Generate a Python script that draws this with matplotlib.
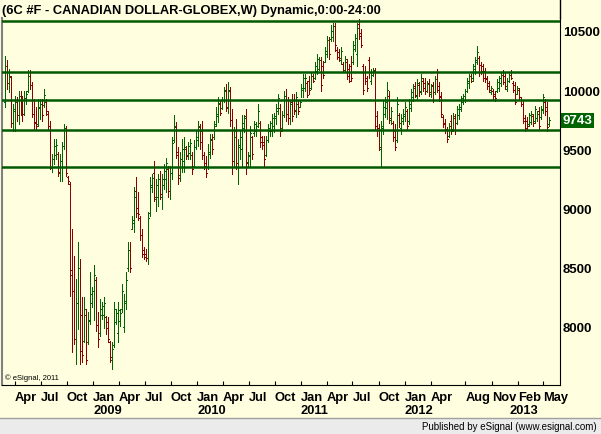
import numpy as np
import pandas as pd
import matplotlib
matplotlib.use('Agg')
import matplotlib.pyplot as plt
import matplotlib.dates as mdates
import matplotlib.transforms as mtransforms
from matplotlib.lines import Line2D
from matplotlib.patches import Rectangle

plt.rcParams['font.family'] = ['Liberation Sans', 'DejaVu Sans']

# weekly bars, 6C continuous
opens = [9900, 10200, 10060, 10110, 9720, 9820, 9900, 9790, 9950, 9830,
         9800, 9920, 9990, 10120, 10040, 9800, 9730, 9710, 9850, 9880,
         9870, 9900, 9800, 9700, 9340, 9420, 9450, 9460, 9300, 9400,
         9530, 9680, 9270, 9210, 8480, 8300, 7900, 8200, 8500, 8100,
         7880, 8100, 7870, 8050, 8200, 8300, 8400, 8020, 7950, 8100,
         8100, 8080, 8040, 7870, 7720, 7850, 8040, 7950, 8050, 8150,
         8000, 8200, 8500, 8650, 8830, 8880, 9150, 9000, 8920, 8780,
         8650, 8620, 8580, 8960, 9180, 9300, 9080, 9100, 9250, 9100,
         9200, 9250, 9330, 9150, 9300, 9580, 9690, 9450, 9280, 9350,
         9400, 9500, 9450, 9470, 9450, 9360, 9520, 9580, 9690, 9650,
         9450, 9380, 9350, 9460, 9590, 9600, 9710, 9780, 9880, 9850,
         9920, 10000, 9850, 9990, 9750, 9400, 9650, 9350, 9520, 9500,
         9680, 9780, 9390, 9440, 9600, 9640, 9650, 9700, 9720, 9600,
         9560, 9450, 9580, 9650, 9650, 9700, 9760, 9820, 9850, 9680,
         9790, 9950, 9800, 9760, 9900, 9920, 9820, 9880, 9860, 9950,
         10000, 10020, 10060, 10080, 10020, 10120, 10100, 10160, 10180, 10250,
         10200, 10240, 10300, 10420, 10430, 10450, 10540, 10340, 10320, 10250,
         10220, 10170, 10240, 10180, 10200, 10240, 10350, 10300, 10560, 10480,
         10200, 10150, 10100, 10250, 10080, 10130, 10160, 9780, 9680, 9500,
         9680, 9800, 9850, 9950, 9750, 9720, 9650, 9580, 9790, 9680,
         9740, 9780, 9820, 9740, 9850, 9940, 10030, 9950, 10040, 9990,
         10080, 10060, 9990, 10060, 9970, 10040, 9980, 10150, 10030, 9950,
         9770, 9720, 9660, 9610, 9740, 9670, 9760, 9720, 9790, 9840,
         9900, 9920, 9990, 10060, 10120, 10100, 10180, 10240, 10270, 10210,
         10200, 10160, 10100, 10060, 9980, 9990, 9970, 9990, 10020, 10060,
         10150, 10120, 10010, 10080, 10150, 10060, 10040, 9970, 10000, 9920,
         9880, 9760, 9740, 9710, 9730, 9780, 9740, 9760, 9820, 9770,
         9830, 9900, 9860, 9710]

highs = [10290, 10250, 10175, 10120, 9880, 9950, 9940, 9995, 9995, 9950,
         9995, 9995, 10165, 10170, 10065, 9925, 9855, 9925, 9925, 9925,
         10010, 9925, 9825, 9735, 9460, 9585, 9585, 9475, 9460, 9560,
         9715, 9700, 9275, 9220, 8825, 8600, 8405, 8715, 8575, 8250,
         8250, 8150, 8125, 8460, 8335, 8520, 8420, 8125, 8235, 8210,
         8250, 8095, 8080, 7885, 7870, 8210, 8150, 8210, 8150, 8365,
         8280, 8460, 8715, 8715, 8940, 9180, 9265, 9135, 8940, 8825,
         8675, 8660, 8970, 9265, 9290, 9405, 9250, 9290, 9320, 9290,
         9375, 9430, 9360, 9360, 9600, 9785, 9730, 9515, 9475, 9585,
         9600, 9530, 9560, 9585, 9475, 9575, 9655, 9740, 9715, 9740,
         9475, 9445, 9545, 9630, 9630, 9740, 9855, 9940, 9910, 9940,
         10025, 10050, 10065, 10025, 9840, 9685, 9755, 9585, 9655, 9785,
         9785, 9840, 9475, 9700, 9615, 9740, 9730, 9880, 9740, 9615,
         9615, 9615, 9715, 9740, 9795, 9810, 9880, 9965, 9880, 9825,
         9995, 10010, 9940, 9910, 9965, 9965, 9980, 9910, 9910, 10050,
         10135, 10135, 10080, 10120, 10150, 10135, 10235, 10305, 10275, 10275,
         10245, 10360, 10460, 10445, 10545, 10570, 10570, 10360, 10345, 10360,
         10235, 10290, 10260, 10220, 10290, 10415, 10470, 10570, 10600, 10515,
         10220, 10205, 10120, 10275, 10175, 10190, 10190, 9825, 9715, 9740,
         9910, 9940, 10065, 9995, 9855, 9740, 9715, 9940, 9810, 9795,
         9840, 9895, 9840, 9925, 10010, 10050, 10065, 10090, 10065, 10135,
         10105, 10105, 10080, 10090, 10050, 10065, 10120, 10180, 10065, 9980,
         9785, 9755, 9685, 9725, 9785, 9810, 9795, 9865, 9880, 9950,
         9965, 10010, 10105, 10135, 10135, 10220, 10275, 10375, 10290, 10235,
         10220, 10190, 10120, 10080, 10035, 10010, 9995, 10090, 10120, 10150,
         10170, 10150, 10105, 10150, 10170, 10080, 10065, 10035, 10020, 9940,
         9910, 9785, 9770, 9810, 9825, 9795, 9865, 9825, 9855, 9865,
         9965, 9925, 9895, 9770]

lows = [9855, 10010, 9980, 9685, 9655, 9655, 9740, 9715, 9785, 9740,
        9785, 9880, 9980, 10010, 9770, 9670, 9670, 9700, 9755, 9740,
        9855, 9785, 9670, 9335, 9305, 9375, 9420, 9275, 9235, 9235,
        9500, 9275, 9205, 8265, 7785, 7855, 7690, 7985, 7690, 7700,
        7870, 7690, 7855, 8025, 8165, 8055, 7970, 7830, 7925, 8065,
        7995, 7940, 7870, 7700, 7645, 7830, 8025, 7870, 8010, 8125,
        7955, 8150, 8475, 8460, 8825, 8800, 8925, 8900, 8730, 8590,
        8575, 8560, 8530, 8940, 9135, 9065, 8980, 9025, 9080, 8995,
        9165, 9135, 9095, 9080, 9250, 9560, 9430, 9205, 9235, 9305,
        9305, 9420, 9420, 9420, 9290, 9350, 9505, 9530, 9505, 9420,
        9335, 9265, 9335, 9430, 9460, 9585, 9700, 9730, 9785, 9840,
        9895, 9825, 9810, 9700, 9290, 9350, 9335, 9205, 9420, 9360,
        9645, 9290, 9360, 9360, 9420, 9615, 9615, 9685, 9515, 9505,
        9360, 9445, 9560, 9615, 9615, 9645, 9715, 9795, 9615, 9655,
        9770, 9740, 9715, 9715, 9740, 9795, 9770, 9795, 9855, 9940,
        9940, 9995, 9940, 9965, 10010, 10065, 10090, 10135, 10165, 9995,
        10105, 10235, 10275, 10260, 10415, 10415, 10330, 10260, 10245, 10220,
        10150, 10150, 10090, 10065, 10080, 10220, 10330, 10205, 10430, 10360,
        9965, 10050, 9995, 10105, 10050, 10120, 9670, 9615, 9490, 9350,
        9630, 9770, 9755, 9725, 9715, 9570, 9490, 9560, 9685, 9630,
        9715, 9740, 9670, 9715, 9825, 9910, 9940, 9925, 9950, 9965,
        9995, 9965, 9980, 9950, 9940, 9895, 9965, 9980, 9910, 9770,
        9685, 9640, 9560, 9600, 9630, 9655, 9630, 9715, 9755, 9825,
        9880, 9895, 9980, 10020, 10065, 10080, 10135, 10220, 10120, 10135,
        10080, 10065, 10010, 9980, 9965, 9925, 9910, 9980, 9995, 10035,
        10050, 10010, 9995, 10065, 10090, 9980, 9880, 9965, 9925, 9865,
        9725, 9655, 9670, 9700, 9715, 9700, 9725, 9740, 9670, 9755,
        9810, 9785, 9655, 9700]

closes = [10200, 10060, 10120, 9720, 9840, 9900, 9790, 9950, 9830, 9800,
          9930, 9970, 10120, 10040, 9800, 9720, 9700, 9860, 9880, 9790,
          9960, 9820, 9700, 9350, 9420, 9530, 9540, 9310, 9400, 9530,
          9680, 9300, 9230, 8440, 8300, 7900, 8200, 8500, 7800, 7760,
          8150, 7720, 8060, 8280, 8300, 8440, 8020, 7900, 8150, 8180,
          8200, 7990, 7900, 7750, 7810, 8150, 8120, 8140, 8120, 8300,
          8220, 8400, 8650, 8500, 8900, 9100, 8960, 8950, 8780, 8620,
          8590, 8580, 8920, 9200, 9260, 9100, 9200, 9250, 9120, 9250,
          9320, 9380, 9150, 9300, 9550, 9700, 9480, 9260, 9420, 9500,
          9520, 9440, 9530, 9550, 9330, 9520, 9600, 9700, 9560, 9450,
          9360, 9300, 9480, 9580, 9500, 9700, 9800, 9890, 9810, 9920,
          9990, 9860, 10000, 9750, 9400, 9600, 9380, 9540, 9600, 9720,
          9760, 9380, 9450, 9640, 9460, 9710, 9700, 9820, 9560, 9540,
          9420, 9580, 9680, 9720, 9760, 9780, 9850, 9930, 9650, 9790,
          9950, 9800, 9760, 9880, 9780, 9830, 9940, 9820, 9900, 10020,
          10100, 10100, 9960, 10000, 10120, 10080, 10200, 10260, 10250, 10040,
          10130, 10330, 10420, 10300, 10500, 10540, 10380, 10280, 10270, 10330,
          10170, 10260, 10120, 10080, 10100, 10380, 10440, 10520, 10460, 10380,
          10000, 10080, 10020, 10150, 10150, 10170, 9700, 9660, 9520, 9700,
          9860, 9900, 10000, 9760, 9820, 9600, 9520, 9880, 9720, 9760,
          9800, 9860, 9700, 9880, 9980, 10020, 9960, 10060, 9980, 10100,
          10020, 9990, 10050, 9980, 10030, 9920, 10090, 10000, 9940, 9800,
          9710, 9670, 9590, 9700, 9650, 9780, 9660, 9840, 9860, 9930,
          9950, 9990, 10080, 10120, 10080, 10200, 10250, 10320, 10150, 10160,
          10100, 10090, 10030, 10000, 10020, 9950, 9930, 10070, 10100, 10130,
          10070, 10030, 10080, 10130, 10100, 10000, 9900, 10020, 9940, 9880,
          9740, 9680, 9700, 9790, 9800, 9720, 9840, 9800, 9700, 9840,
          9940, 9820, 9690, 9743]

dates = pd.date_range('2008-02-25', periods=len(closes), freq='W-MON')

levels = [10585, 10150, 9915, 9660, 9350]
last_price = 9743

month_ticks = ['2008-04-01', '2008-07-01', '2008-10-01', '2009-01-01', '2009-04-01',
               '2009-07-01', '2009-10-01', '2010-01-01', '2010-04-01', '2010-07-01',
               '2010-10-01', '2011-01-01', '2011-04-01', '2011-07-01', '2011-10-01',
               '2012-01-01', '2012-04-01', '2012-08-01', '2012-11-01', '2013-02-01',
               '2013-05-01']
month_labels = ['Apr', 'Jul', 'Oct', 'Jan', 'Apr', 'Jul', 'Oct', 'Jan', 'Apr', 'Jul',
                'Oct', 'Jan', 'Apr', 'Jul', 'Oct', 'Jan', 'Apr', 'Aug', 'Nov', 'Feb', 'May']
year_ticks = ['2009-01-01', '2010-01-01', '2011-01-01', '2012-01-01', '2013-01-01']
year_labels = ['2009', '2010', '2011', '2012', '2013']
price_ticks = [8000, 8500, 9000, 9500, 10000, 10500]

BG = '#ffffe0'
GREEN = '#006400'
RED = '#8b0000'
LINE = '#005800'

W, H = 601, 435
fig = plt.figure(figsize=(W / 100, H / 100), dpi=100, facecolor=BG)
ax = fig.add_axes([2 / W, 1 - 386 / H, 558 / W, 367 / H], facecolor=BG)

x = mdates.date2num(dates)
up = np.array(closes) >= np.array(opens)
cols = np.where(up, GREEN, RED)
ax.vlines(x, lows, highs, colors=cols, lw=0.72, antialiased=False)
ax.hlines(opens, x - 3.5, x, colors=cols, lw=0.72, antialiased=False)
ax.hlines(closes, x, x + 3.5, colors=cols, lw=0.72, antialiased=False)

for lv in levels:
    ax.axhline(lv, color=LINE, lw=1.8, zorder=3)

ax.set_ylim(7510, 10608)
ax.set_xlim(mdates.datestr2num('2008-02-16'), mdates.datestr2num('2013-06-29'))

ax.spines['top'].set_visible(False)
ax.spines['left'].set_color('#808080')
ax.spines['left'].set_linewidth(1.5)
ax.spines['right'].set_color('black')
ax.spines['bottom'].set_color('black')

ax.yaxis.tick_right()
ax.set_yticks(price_ticks)
ax.set_yticklabels([str(v) for v in price_ticks], fontsize=9.5, fontweight='bold')
ax.tick_params(axis='y', length=0, pad=2)

ax.set_xticks(mdates.datestr2num(month_ticks))
ax.set_xticklabels(month_labels, ha='left', fontsize=9.3, fontweight='bold')
ax.tick_params(axis='x', direction='in', length=3, pad=4)

for d, lab in zip(year_ticks, year_labels):
    ax.text(mdates.datestr2num(d), -0.068, lab, transform=ax.get_xaxis_transform(),
            ha='left', va='center', fontsize=9.3, fontweight='bold')

# last price tag
tr = mtransforms.blended_transform_factory(ax.transAxes, ax.transData)
ax.text(1.004, last_price, str(last_price), transform=tr, ha='left', va='center',
        color='white', fontsize=9.5, fontweight='bold',
        bbox=dict(facecolor=GREEN, edgecolor='none', pad=1.2))

ax.text(0.006, 0.022, '\u00a9 eSignal, 2011', transform=ax.transAxes, fontsize=5.5,
        ha='left', va='center')

fig.text(2 / W, 1 - 11 / H, '(6C #F - CANADIAN DOLLAR-GLOBEX,W) Dynamic,0:00-24:00',
         fontsize=9.3, fontweight='bold', ha='left', va='center')

# right edge line up through the header
fig.add_artist(Line2D([560 / W, 560 / W], [1 - 19 / H, 1], transform=fig.transFigure,
                      color='black', lw=1))

# status bar
fig.add_artist(Rectangle((0, 0), 1, 16 / H, transform=fig.transFigure,
                         facecolor='#ebebeb', edgecolor='none'))
fig.add_artist(Line2D([0, 1], [16.5 / H, 16.5 / H], transform=fig.transFigure,
                      color='#a0a0a0', lw=1))
fig.text(597 / W, 8 / H, 'Published by eSignal (www.esignal.com)', fontsize=7,
         ha='right', va='center')

fig.savefig('out.png', dpi=100, facecolor=BG)
